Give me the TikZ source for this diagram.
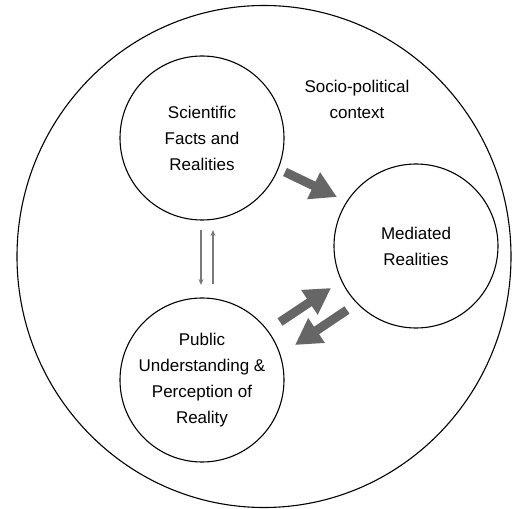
\documentclass[tikz,border=0pt]{standalone}
\usepackage{fontspec}
\setmainfont{Liberation Sans}
\usetikzlibrary{arrows.meta}
\definecolor{arrowgray}{HTML}{666666}
\definecolor{thingray}{HTML}{7A7A7A}
\tikzset{
  x=1pt, y=1pt,
  bubble/.style={circle, draw=black, line width=1.1pt, minimum size=164pt, inner sep=0pt, align=center, font=\fontsize{17}{26}\selectfont},
  label text/.style={align=center, font=\fontsize{17}{26}\selectfont},
  bigarrow/.style={draw=arrowgray, line width=9pt, -{Triangle[length=26pt, width=28pt]}},
  thinarrow/.style={draw=thingray, line width=1.6pt, -{Stealth[length=6pt, width=5pt]}}
}
\begin{document}
\begin{tikzpicture}
\useasboundingbox (0,0) rectangle (512,509);
\draw[line width=1.1pt] (264,252.5) ellipse [x radius=247, y radius=251];
\node[bubble] (sci) at (202,371) {Scientific\\Facts and\\Realities};
\node[bubble] (med) at (416,263) {Mediated\\Realities};
\node[bubble] (pub) at (202,129) {Public\\Understanding \&\\Perception of\\Reality};
\node[label text] (ctx) at (357,410) {Socio-political\\context};
% big arrows
\coordinate (a1s) at (285,337);
\coordinate (a1e) at (337,312);
\coordinate (a2s) at (280,187);
\coordinate (a2e) at (331,221);
\coordinate (a3s) at (347,199);
\coordinate (a3e) at (295,164);
\draw[bigarrow] (a1s) -- (a1e);
\draw[bigarrow] (a2s) -- (a2e);
\draw[bigarrow] (a3s) -- (a3e);
% thin arrows
\coordinate (d1) at (201,279);
\coordinate (d2) at (201,224);
\coordinate (u1) at (213,225);
\coordinate (u2) at (213,279);
\draw[thinarrow] (d1) -- (d2);
\draw[thinarrow] (u1) -- (u2);
\end{tikzpicture}
\end{document}
